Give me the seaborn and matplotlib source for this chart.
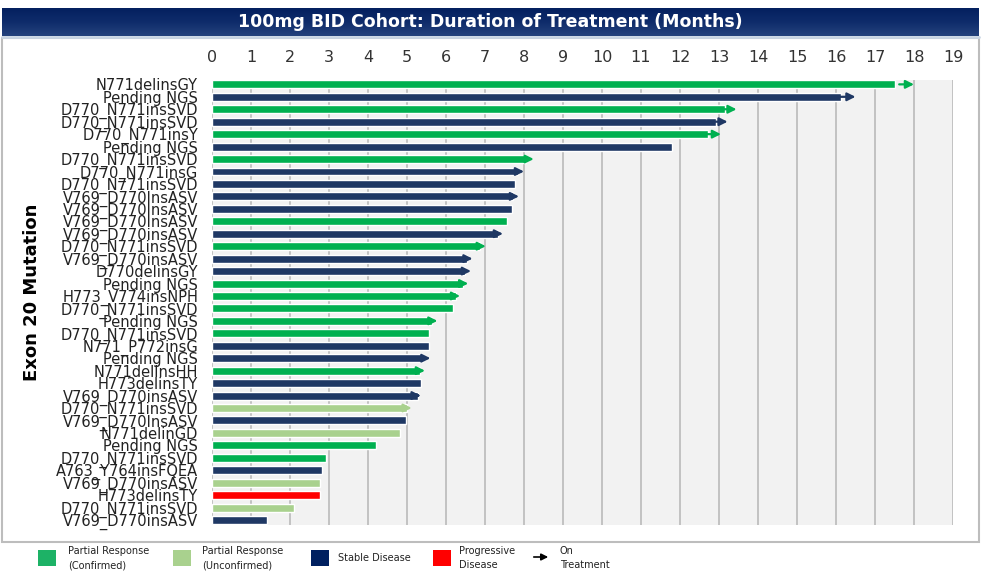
import numpy as np
import pandas as pd
import matplotlib
matplotlib.use('Agg')
import matplotlib.pyplot as plt
from matplotlib.patches import Rectangle
import seaborn as sns

# Data (top row first)
mutations = ['N771delinsGY', 'Pending NGS', 'D770_N771insSVD', 'D770_N771insSVD', 'D770_N771insY',
             'Pending NGS', 'D770_N771insSVD', 'D770_N771insG', 'D770_N771insSVD', 'V769_D770InsASV',
             'V769_D770InsASV', 'V769_D770InsASV', 'V769_D770insASV', 'D770_N771insSVD', 'V769_D770insASV',
             'D770delinsGY', 'Pending NGS', 'H773_V774insNPH', 'D770_N771insSVD', 'Pending NGS',
             'D770_N771insSVD', 'N771_P772insG', 'Pending NGS', 'N771delInsHH', 'H773delinsTY',
             'V769_D770insASV', 'D770_N771insSVD', 'V769_D770InsASV', 'N771delinGD', 'Pending NGS',
             'D770_N771insSVD', 'A763_Y764insFQEA', 'V769_D770insASV', 'H773delinsTY', 'D770_N771insSVD',
             'V769_D770insASV']
months = [17.52, 16.14, 13.16, 12.92, 12.71, 11.80, 8.05, 7.85, 7.76, 7.72,
          7.68, 7.57, 7.34, 6.87, 6.53, 6.48, 6.44, 6.25, 6.19, 5.63,
          5.56, 5.56, 5.42, 5.33, 5.37, 5.28, 4.99, 4.97, 4.81, 4.20,
          2.93, 2.82, 2.77, 2.77, 2.11, 1.40]
# PRC = partial response confirmed, PRU = unconfirmed, SD = stable, PD = progressive
response = ['PRC', 'SD', 'PRC', 'SD', 'PRC', 'SD', 'PRC', 'SD', 'SD', 'SD',
            'SD', 'PRC', 'SD', 'PRC', 'SD', 'SD', 'PRC', 'PRC', 'PRC', 'PRC',
            'PRC', 'SD', 'SD', 'PRC', 'SD', 'SD', 'PRU', 'SD', 'PRU', 'PRC',
            'PRC', 'SD', 'PRU', 'PD', 'PRU', 'SD']
# tip of the "on treatment" arrow (None = off treatment)
arrow_tip = [18.0, 16.5, 13.45, 13.22, 13.05, None, 8.25, 8.0, None, 7.87,
             None, None, 7.46, 7.02, 6.68, 6.64, 6.57, 6.36, None, 5.78,
             None, None, 5.6, 5.46, None, 5.35, 5.12, None, None, None,
             None, None, None, None, None, None]

colors = {'PRC': '#00B050', 'PRU': '#A9D18E', 'SD': '#1F3864', 'PD': '#FF0000'}
legend_colors = {'PRC': '#1DB266', 'PRU': '#A9D18E', 'SD': '#002060', 'PD': '#FF0000'}

df = pd.DataFrame({'row': list(range(len(mutations))), 'months': months, 'response': response})

sns.set_theme(style='white')
plt.rcParams['font.family'] = ['DejaVu Sans']

W, H = 981, 584
fig = plt.figure(figsize=(W / 100, H / 100), dpi=100)


def fx(x):
    return x / W


def fy(y):
    return 1 - y / H


ax = fig.add_axes([fx(212), fy(525), fx(953) - fx(212), fy(80) - fy(525)])
sns.barplot(data=df, x='months', y='row', hue='response', palette=colors, dodge=False,
            orient='h', order=list(range(len(mutations))), width=0.64, saturation=1,
            legend=False, ax=ax)

# arrows for patients still on treatment
for i, (m, t) in enumerate(zip(months, arrow_tip)):
    if t is None:
        continue
    start = m if t - m < 0.4 else t - 0.33
    ax.annotate('', xy=(t, i), xytext=(start - 0.05, i),
                arrowprops=dict(arrowstyle='-|>', color=colors[response[i]], lw=1.6,
                                mutation_scale=12, shrinkA=0, shrinkB=0))

ax.set_xlim(0, 19)
ax.set_ylim(35.4, -0.35)
ax.set_facecolor('#F2F2F2')
ax.xaxis.tick_top()
ax.set_xticks(range(20))
ax.grid(axis='x', color='#BFBFBF', lw=1.3)
ax.grid(axis='y', visible=False)
ax.set_axisbelow(True)
ax.set_yticks(range(len(mutations)))
ax.set_yticklabels(mutations, fontsize=10.5, color='#222222')
ax.tick_params(axis='y', length=0, pad=10)
ax.tick_params(axis='x', length=0, pad=11, labelsize=11.5, colors='#333333')
ax.set_xlabel('')
ax.set_ylabel('')
for s in ax.spines.values():
    s.set_visible(False)

fig.text(fx(32), fy(292), 'Exon 20 Mutation', rotation=90, ha='center', va='center',
         fontsize=13, fontweight='bold', color='black')

# title band
tax = fig.add_axes([fx(2), fy(36), fx(979) - fx(2), fy(8) - fy(36)])
grad = np.linspace(0, 1, 50).reshape(-1, 1)
cmap = matplotlib.colors.LinearSegmentedColormap.from_list('band', ['#04205F', '#0F2C6B', '#24427C'])
tax.imshow(grad, aspect='auto', cmap=cmap, extent=[0, 1, 0, 1])
tax.axis('off')
fig.text(fx(490), fy(22), '100mg BID Cohort: Duration of Treatment (Months)', ha='center', va='center',
         fontsize=12.5, fontweight='bold', color='white')
fig.add_artist(plt.Line2D([fx(2), fx(979)], [fy(37), fy(37)], color='#C9D5E3', lw=2))
fig.add_artist(Rectangle((fx(2), fy(542)), fx(979) - fx(2), fy(38) - fy(542), transform=fig.transFigure,
                         fill=False, edgecolor='#BDBDBD', lw=1.5))

# legend
leg_items = [('PRC', 38, 68, 'Partial Response\n(Confirmed)'),
             ('PRU', 173, 202, 'Partial Response\n(Unconfirmed)'),
             ('SD', 311, 338, 'Stable Disease'),
             ('PD', 433, 459, 'Progressive\nDisease')]
for key, x0, tx, txt in leg_items:
    fig.add_artist(Rectangle((fx(x0), fy(566)), 18 / W, 16 / H, transform=fig.transFigure,
                             facecolor=legend_colors[key], edgecolor='none'))
    fig.text(fx(tx), fy(558), txt, ha='left', va='center', fontsize=7, color='#222222', linespacing=1.6)
fig.add_artist(matplotlib.patches.FancyArrowPatch((fx(531), fy(557)), (fx(551), fy(557)),
                                                  transform=fig.transFigure, arrowstyle='-|>',
                                                  mutation_scale=10, color='black', lw=1.2))
fig.text(fx(560), fy(558), 'On\nTreatment', ha='left', va='center', fontsize=7, color='#222222',
         linespacing=1.6)

fig.savefig('out.png', dpi=100)
